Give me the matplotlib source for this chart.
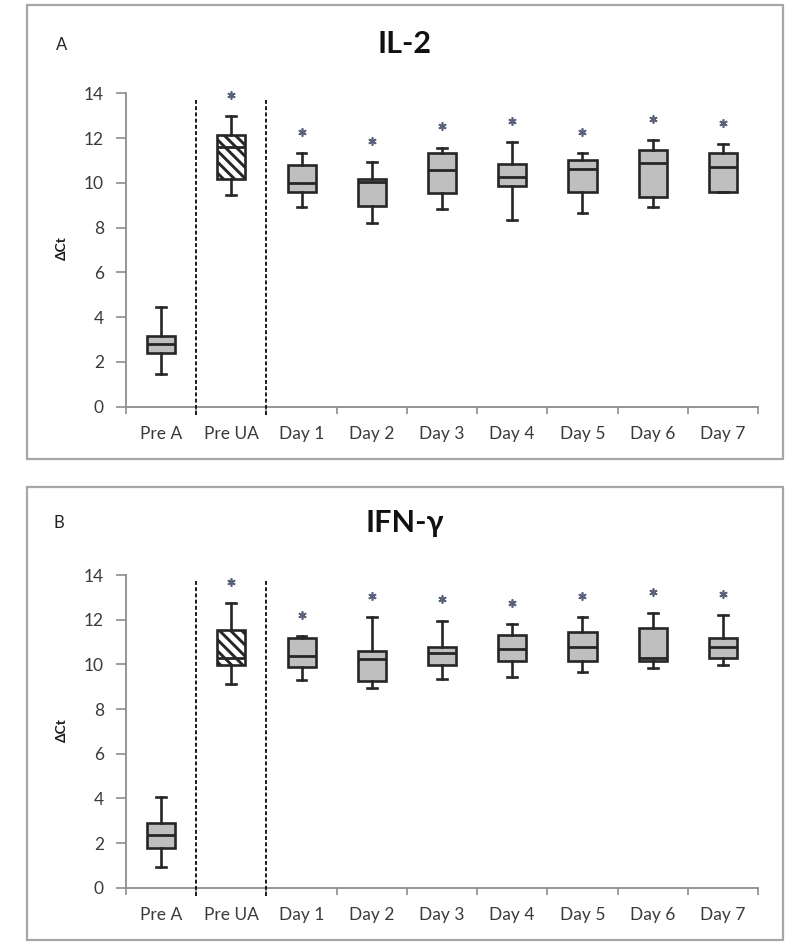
import matplotlib
matplotlib.use("Agg")
import matplotlib.pyplot as plt
from matplotlib.patches import Rectangle
import numpy as np

plt.rcParams['font.family'] = ['Lato', 'DejaVu Sans']
plt.rcParams['hatch.linewidth'] = 2.1

categories = ['Pre A', 'Pre UA', 'Day 1', 'Day 2', 'Day 3', 'Day 4', 'Day 5', 'Day 6', 'Day 7']
significant = [False, True, True, True, True, True, True, True, True]

# IL-2 delta Ct five-number summaries
il2_low  = [1.44, 9.46, 8.91, 8.21, 8.82, 8.36, 8.67, 8.91, 9.61]
il2_q1   = [2.38, 10.16, 9.61, 8.98, 9.53, 9.85, 9.61, 9.35, 9.61]
il2_med  = [2.79, 11.60, 10.01, 10.05, 10.56, 10.25, 10.62, 10.87, 10.72]
il2_q3   = [3.16, 12.12, 10.80, 10.16, 11.33, 10.86, 11.01, 11.47, 11.33]
il2_high = [4.44, 12.99, 11.33, 10.93, 11.57, 11.81, 11.32, 11.90, 11.72]

# IFN-gamma delta Ct five-number summaries
ifn_low  = [0.94, 9.13, 9.28, 8.96, 9.34, 9.43, 9.67, 9.82, 9.99]
ifn_q1   = [1.79, 9.99, 9.90, 9.27, 9.99, 10.15, 10.15, 10.15, 10.28]
ifn_med  = [2.36, 10.27, 10.39, 10.24, 10.52, 10.69, 10.78, 10.30, 10.78]
ifn_q3   = [2.91, 11.55, 11.18, 10.60, 10.76, 11.33, 11.46, 11.64, 11.16]
ifn_high = [4.07, 12.75, 11.25, 12.13, 11.96, 11.81, 12.13, 12.28, 12.19]

y_ticks = [0, 2, 4, 6, 8, 10, 12, 14]

SPINE = '#8c8c8c'
TEXT = '#3a3a3a'
EDGE = '#262626'

fig = plt.figure(figsize=(7.91, 9.47), dpi=100)

# outer panel frames
for (fx, fy, fw, fh) in [(0.0341, 0.5153, 0.9558, 0.4794), (0.0341, 0.0074, 0.9558, 0.4784)]:
    fig.add_artist(Rectangle((fx, fy), fw, fh, transform=fig.transFigure,
                             fill=False, ec='#a6a6a6', lw=1.6))


def draw_panel(ax, low, q1, med, q3, high):
    positions = np.arange(1, len(categories) + 1)
    stats = [dict(whislo=a, q1=b, med=c, q3=d, whishi=e, fliers=[])
             for a, b, c, d, e in zip(low, q1, med, q3, high)]
    bp = ax.bxp(stats, positions=positions, widths=0.4, capwidths=0.14,
                patch_artist=True, showfliers=False,
                boxprops=dict(facecolor='#bfbfbf', edgecolor=EDGE, linewidth=1.9),
                medianprops=dict(color=EDGE, linewidth=2.0),
                whiskerprops=dict(color=EDGE, linewidth=1.9),
                capprops=dict(color=EDGE, linewidth=1.9))
    bp['boxes'][1].set_facecolor('white')
    bp['boxes'][1].set_hatch('\\\\\\')

    # significance asterisks above the upper whiskers
    for x, top, sig in zip(positions, high, significant):
        if sig:
            ax.plot(x, top + 0.95, marker=(6, 2, 0), ms=6, mew=1.2,
                    color='#59627a', clip_on=False, zorder=5)

    # dashed separators between the baseline groups
    ax.vlines([1.5, 2.5], -0.37, 13.73, colors='#1a1a1a', linestyles=(0, (2, 1.2)),
              linewidth=1.4, clip_on=False, zorder=4)

    ax.set_xlim(0.5, 9.5)
    ax.set_ylim(0, 14)
    ax.set_xticks(positions)
    ax.set_xticklabels(categories, fontsize=12.5, color=TEXT)
    ax.set_xticks(np.arange(0.5, 10, 1), minor=True)
    ax.tick_params(axis='x', which='major', length=0, pad=14)
    ax.tick_params(axis='x', which='minor', length=5, width=1.2, color=SPINE, direction='out')
    ax.set_yticks(y_ticks)
    ax.set_yticklabels([str(v) for v in y_ticks], fontsize=12.5, color=TEXT)
    ax.tick_params(axis='y', length=7, width=1.2, color=SPINE, direction='out', pad=9)
    for side in ['top', 'right']:
        ax.spines[side].set_visible(False)
    for side in ['left', 'bottom']:
        ax.spines[side].set_color(SPINE)
        ax.spines[side].set_linewidth(1.3)
    ax.set_ylabel('ΔCt', fontsize=10, fontweight='bold', color='#1a1a1a')
    ax.yaxis.set_label_coords(-0.092, 0.505)


ax_a = fig.add_axes([0.1593, 0.5705, 0.799, 0.331])
draw_panel(ax_a, il2_low, il2_q1, il2_med, il2_q3, il2_high)
ax_b = fig.add_axes([0.1593, 0.0626, 0.799, 0.3302])
draw_panel(ax_b, ifn_low, ifn_q1, ifn_med, ifn_q3, ifn_high)

fig.text(0.512, 0.954, 'IL-2', fontsize=22, fontweight='bold', ha='center', va='center', color='#111111')
fig.text(0.512, 0.4477, 'IFN-γ', fontsize=22, fontweight='bold', ha='center', va='center', color='#111111')
fig.text(0.078, 0.952, 'A', fontsize=12, ha='center', va='center', color='#222222')
fig.text(0.0746, 0.4477, 'B', fontsize=12, ha='center', va='center', color='#222222')

fig.savefig('out.png', dpi=100)
